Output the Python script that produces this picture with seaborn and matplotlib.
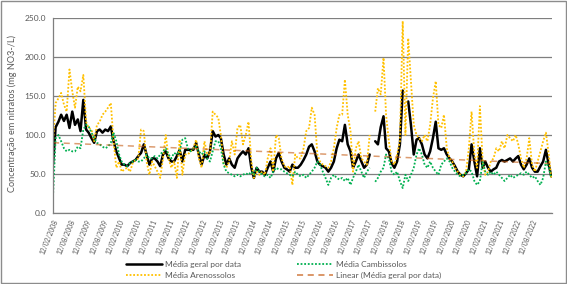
import matplotlib
matplotlib.use('Agg')

import numpy as np
import pandas as pd
import matplotlib.pyplot as plt
import matplotlib.dates as mdates
from matplotlib.lines import Line2D
import seaborn as sns

# ========== DATA (monthly readings) ==========
nan = np.nan
datas = pd.date_range('2008-02-12', periods=182, freq=pd.DateOffset(months=1))

media_geral = [
    62, 110, 117, 126, 118, 126, 109, 130, 113, 120, 105, 145, 107, 103, 96, 90,
    105, 107, 103, 107, 105, 111, 92, 79, 70, 62, 62, 60, 64, 66, 68, 73,
    77, 88, 75, 62, 70, 70, 66, 60, 75, 79, 70, 66, 66, 73, 81, 66,
    81, 81, 81, 81, 90, 75, 62, 75, 70, 79, 105, 98, 100, 96, 75, 62,
    70, 62, 58, 70, 75, 79, 75, 83, 58, 45, 58, 53, 53, 49, 58, 66,
    53, 70, 77, 66, 58, 56, 53, 62, 58, 58, 62, 68, 75, 85, 88, 79,
    66, 62, 60, 58, 53, 58, 66, 83, 94, 92, 113, 88, 79, 58, 66, 75,
    66, 58, 62, 75, nan, 92, 88, 110, 124, 83, 79, 64, 58, 66, 88, 157,
    nan, 143, 113, 75, 94, 96, 88, 75, 70, 79, 96, 117, 83, 81, 83, 75,
    70, 66, 60, 53, 49, 47, 51, 56, 88, 66, 47, 83, 58, 66, 58, 53,
    56, 58, 66, 68, 66, 68, 70, 66, 70, 73, 62, 56, 62, 70, 58, 53,
    53, 60, 66, 81, 62, 47,
]

media_arenossolos = [
    90, 141, 147, 154, 139, 130, 184, 156, 135, 162, 156, 177, 117, 109, 107, 92,
    113, 117, 126, 130, 135, 141, 92, 58, 66, 53, 56, 58, 53, 64, 68, 70,
    107, 105, 66, 49, 66, 60, 53, 45, 70, 100, 70, 58, 66, 45, 94, 49,
    75, 75, 79, 83, 94, 70, 58, 92, 75, 75, 130, 126, 122, 100, 62, 58,
    66, 92, 75, 109, 113, 88, 100, 117, 66, 45, 53, 49, 53, 49, 70, 83,
    53, 100, 96, 70, 60, 58, 60, 36, 75, 70, 70, 83, 105, 109, 135, 126,
    75, 66, 62, 60, 58, 66, 83, 109, 126, 126, 171, 126, 105, 53, 83, 92,
    70, 66, 62, 100, nan, 130, 160, 152, 199, 126, 92, 66, 62, 75, 92, 246,
    100, 224, 169, 113, 100, 96, 92, 100, 92, 113, 147, 169, 113, 109, 126, 83,
    70, 66, 58, 53, 49, 47, 53, 83, 130, 75, 58, 137, 66, 49, 53, 66,
    70, 83, 79, 92, 83, 100, 96, 92, 100, 88, 70, 58, 70, 96, 62, 53,
    66, 79, 92, 103, 75, 45,
]

media_cambissolos = [
    21, 96, 100, 92, 83, 79, 81, 79, 79, 85, 83, 107, 113, 111, 103, 96,
    90, 88, 85, 83, 85, 90, 103, 92, 75, 66, 62, 60, 64, 66, 68, 66,
    66, 70, 75, 70, 70, 73, 70, 75, 79, 83, 75, 70, 77, 75, 79, 94,
    96, 83, 79, 83, 85, 79, 75, 79, 70, 66, 79, 92, 92, 83, 62, 53,
    51, 49, 47, 49, 47, 49, 51, 49, 53, 49, 58, 53, 49, 47, 49, 45,
    53, 58, 56, 56, 53, 51, 49, 47, 53, 49, 47, 49, 45, 49, 53, 58,
    66, 62, 53, 45, 36, 45, 49, 45, 43, 45, 41, 45, 36, 45, 53, 62,
    53, 45, 53, 58, nan, 40, 45, 53, 58, 75, 70, 53, 49, 53, 41, 32,
    49, 41, 49, 58, 75, 83, 75, 62, 58, 66, 58, 53, 49, 62, 66, 70,
    66, 58, 53, 49, 47, 49, 51, 56, 53, 41, 36, 41, 66, 53, 49, 53,
    49, 53, 49, 45, 41, 45, 49, 45, 47, 49, 51, 49, 53, 49, 45, 47,
    41, 36, 45, 66, 58, 45,
]

series_labels = ['Média geral por data', 'Média Arenossolos',
                 'Média Cambissolos', 'Linear (Média geral por data)']
tick_datas = pd.date_range('2008-02-12', '2022-08-12', freq=pd.DateOffset(months=6))

df = pd.DataFrame({'data': datas, 'geral': media_geral,
                   'arenossolos': media_arenossolos, 'cambissolos': media_cambissolos})

# linear trendline of the general mean (same as Excel's "Linear" trendline)
ok = df['geral'].notna()
xnum = mdates.date2num(df['data'])
coef = np.polyfit(xnum[ok], df.loc[ok, 'geral'], 1)
df['linear'] = np.polyval(coef, xnum)

# ========== PLOT ==========
sns.set_style('white')
plt.rcParams['font.family'] = ['Lato', 'DejaVu Sans']

GRID = '#7F7F7F'
TXT = '#595959'
C_GERAL = 'black'
C_AREN = '#FFC000'
C_CAMB = '#00B050'
C_LIN = '#C55A11'

fig = plt.figure(figsize=(5.67, 2.84), dpi=100)
ax = fig.add_axes([53/567, 1-213/284, (552-53)/567, (213-18)/284])


def draw(col, **kw):
    d = df[['data', col]].copy()
    d['seg'] = d[col].isna().cumsum()   # break the line where data is missing
    d = d.dropna()
    sns.lineplot(data=d, x='data', y=col, units='seg', estimator=None, ax=ax, **kw)


draw('geral', color=C_GERAL, linewidth=1.8)
draw('arenossolos', color=C_AREN, linewidth=1.3, linestyle=(0, (1, 1)))
draw('cambissolos', color=C_CAMB, linewidth=1.3, linestyle=(0, (1, 1)))
draw('linear', color=C_LIN, linewidth=1.1, linestyle=(0, (4, 3)), alpha=0.6)

ax.set_ylim(0, 250)
ax.set_yticks(range(0, 251, 50))
ax.yaxis.set_major_formatter(matplotlib.ticker.FormatStrFormatter('%.1f'))
ax.set_xlim(datas[0], datas[-1] + pd.Timedelta(days=8))
ax.set_xticks(tick_datas)
ax.xaxis.set_major_formatter(mdates.DateFormatter('%d/%m/%Y'))

ax.set_xlabel('')
ax.set_ylabel('')
ax.yaxis.grid(True, color=GRID, linewidth=0.9)
ax.xaxis.grid(False)
for s in ['top', 'right']:
    ax.spines[s].set_visible(False)
for s in ['left', 'bottom']:
    ax.spines[s].set_color(GRID)
    ax.spines[s].set_linewidth(0.9)

ax.tick_params(axis='x', direction='out', length=3, color=GRID, labelsize=4.8,
               labelcolor=TXT, pad=1)
ax.tick_params(axis='y', direction='out', length=3, color=GRID, labelsize=6,
               labelcolor=TXT, pad=2)
plt.setp(ax.get_xticklabels(), rotation=68, ha='right', rotation_mode='anchor')

fig.text(12/567, 1-113/284, 'Concentração em nitratos (mg NO3-/L)', rotation=90,
         ha='center', va='center', fontsize=6.6, color=TXT)

handles = [
    Line2D([], [], color=C_GERAL, lw=1.8),
    Line2D([], [], color=C_AREN, lw=1.3, ls=(0, (1, 1))),
    Line2D([], [], color=C_CAMB, lw=1.3, ls=(0, (1, 1))),
    Line2D([], [], color=C_LIN, lw=1.1, ls=(0, (4, 3)), alpha=0.8),
]
leg = fig.legend(handles, series_labels, loc='center', bbox_to_anchor=(0.5, 1-270/284),
                 ncol=2, frameon=False, fontsize=6, handlelength=4.3,
                 handletextpad=0.35, columnspacing=6.8, labelspacing=0.5)
for t in leg.get_texts():
    t.set_color(TXT)

fig.add_artist(plt.Rectangle((0.001, 0.002), 0.997, 0.995, transform=fig.transFigure,
                             fill=False, edgecolor='#8C8C8C', linewidth=1))

fig.savefig('out.png', dpi=100)
